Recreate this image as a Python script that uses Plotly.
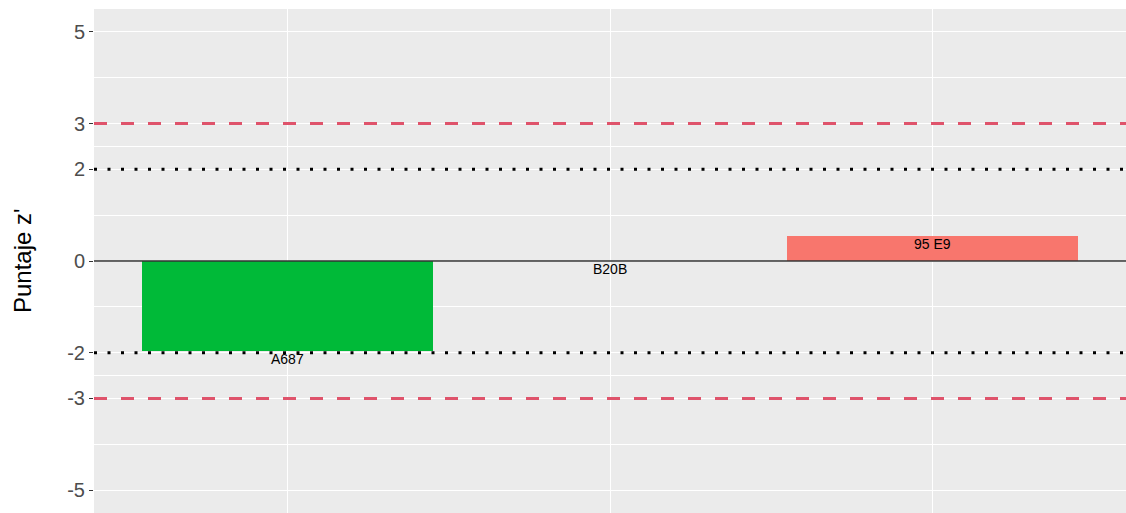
import plotly.graph_objects as go

# Data
categories = ["A687", "B20B", "95 E9"]
z_scores = [-1.97, 0.0, 0.54]
bar_colors = ["#00BA38", "#619CFF", "#F8766D"]

# Reference thresholds
warning_levels = [2, -2]
action_levels = [3, -3]

y_ticks = [-5, -3, -2, 0, 2, 3, 5]
y_minor = [-4, -2.5, -1, 1, 2.5, 4]

FONT = "Liberation Sans, Arial, sans-serif"

fig = go.Figure()

fig.add_trace(go.Bar(
    x=categories,
    y=z_scores,
    width=0.9,
    marker=dict(color=bar_colors, line=dict(width=0)),
    showlegend=False,
    hoverinfo="x+y",
))

# Value labels just beneath each bar end
for cat, val in zip(categories, z_scores):
    fig.add_annotation(
        x=cat, y=val, text=cat, showarrow=False,
        yanchor="top", xanchor="center", yshift=2,
        font=dict(family=FONT, size=14, color="#000000"),
    )

# Zero reference line
fig.add_hline(y=0, line=dict(color="#333333", width=1.3), layer="above")

for lv in warning_levels:
    fig.add_hline(y=lv, line=dict(color="#000000", width=3, dash="3px,10.5px"), layer="above")

for lv in action_levels:
    fig.add_hline(y=lv, line=dict(color="#DF536B", width=3, dash="13px,14px"), layer="above")

# Axis title
fig.add_annotation(
    xref="paper", yref="paper", x=0, y=0.5, xshift=-72,
    text="Puntaje z'", textangle=-90, showarrow=False,
    xanchor="center", yanchor="middle",
    font=dict(family=FONT, size=24, color="#000000"),
)

fig.update_layout(
    width=1126,
    height=513,
    margin=dict(l=94, r=0, t=9, b=0),
    paper_bgcolor="#FFFFFF",
    plot_bgcolor="#EBEBEB",
    font=dict(family=FONT),
    bargap=0,
    xaxis=dict(
        type="category",
        range=[-0.6, 2.6],
        showticklabels=False,
        showgrid=True,
        gridcolor="#FFFFFF",
        gridwidth=1.4,
        zeroline=False,
        showline=False,
        ticks="",
        fixedrange=True,
    ),
    yaxis=dict(
        range=[-5.5, 5.5],
        tickmode="array",
        tickvals=y_ticks,
        ticktext=[str(v) for v in y_ticks],
        ticks="outside",
        ticklen=4,
        tickwidth=1.2,
        tickcolor="#333333",
        tickfont=dict(family=FONT, size=20, color="#4D4D4D"),
        showgrid=True,
        gridcolor="#FFFFFF",
        gridwidth=1.4,
        minor=dict(
            tickmode="array",
            tickvals=y_minor,
            showgrid=True,
            gridcolor="#FFFFFF",
            gridwidth=0.7,
            ticks="",
        ),
        zeroline=False,
        showline=False,
        fixedrange=True,
    ),
)

fig.write_html("out.html")
